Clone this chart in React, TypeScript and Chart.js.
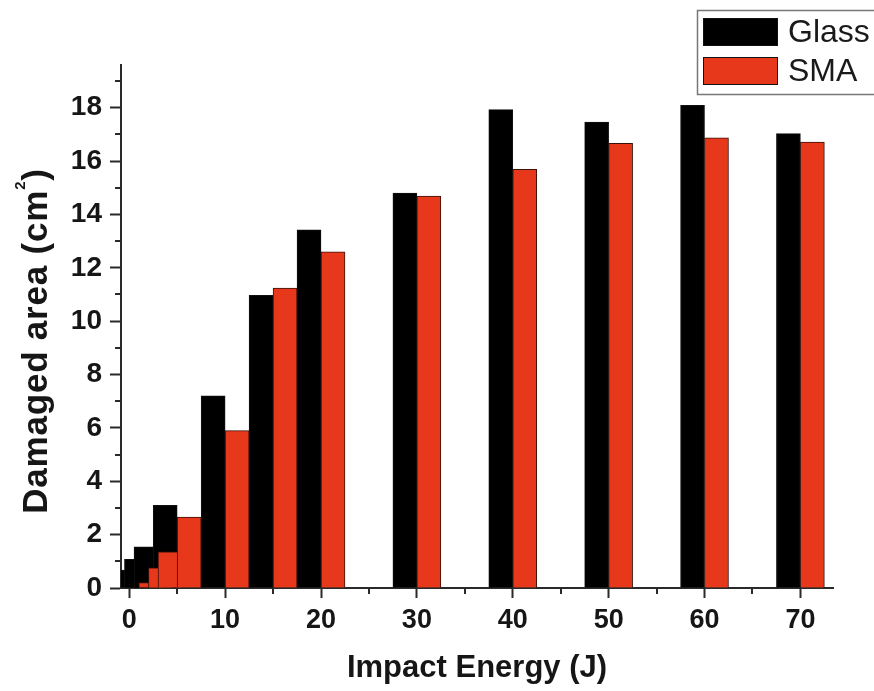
import React, { useEffect, useRef } from "react";
import { Chart, registerables } from "chart.js";

Chart.register(...registerables);

// Impact energies (J)
const energies = [1, 2, 3, 5, 10, 15, 20, 30, 40, 50, 60, 70];
// Damaged area (cm²)
const glassArea = [0.67, 1.07, 1.54, 3.1, 7.2, 10.97, 13.42, 14.8, 17.93, 17.46, 18.09, 17.03];
const smaArea = [0.2, 0.76, 1.36, 2.66, 5.9, 11.24, 12.6, 14.69, 15.69, 16.66, 16.87, 16.71];
const seriesLabels = ["Glass", "SMA"];
const xTitle = "Impact Energy (J)";
const yTitleMain = "Damaged area (cm";
const yTitleSup = "2";
const yTitleEnd = ")";
const xTickValues = [0, 10, 20, 30, 40, 50, 60, 70];
const xMinorValues = [5, 15, 25, 35, 45, 55, 65];
const yTickValues = [0, 2, 4, 6, 8, 10, 12, 14, 16, 18];
const yMinorValues = [1, 3, 5, 7, 9, 11, 13, 15, 17, 19];
const BAR_WIDTH_J = 2.5;

const FONT = "'Liberation Sans', Arial, Helvetica, sans-serif";
const GLASS_COLOR = "#000000";
const SMA_COLOR = "#e8381c";
const AXIS_COLOR = "#2a2a2a";
const TEXT_COLOR = "#161616";

export default function App() {
  const ref = useRef<HTMLCanvasElement>(null);

  useEffect(() => {
    const canvas = ref.current;
    if (!canvas) return;

    const minorTicks = {
      id: "minorTicks",
      afterDraw(chart: any) {
        const c = chart.ctx;
        const xs = chart.scales.x;
        const ys = chart.scales.y;
        const area = chart.chartArea;
        c.save();
        c.strokeStyle = AXIS_COLOR;
        c.lineWidth = 2;
        c.beginPath();
        for (const v of yMinorValues) {
          const py = Math.round(ys.getPixelForValue(v));
          c.moveTo(area.left - 6, py);
          c.lineTo(area.left, py);
        }
        for (const v of xMinorValues) {
          const px = Math.round(xs.getPixelForValue(v));
          c.moveTo(px, area.bottom);
          c.lineTo(px, area.bottom + 6);
        }
        c.stroke();
        c.restore();
      },
    };

    const yTitle = {
      id: "yTitle",
      afterDraw(chart: any) {
        const c = chart.ctx;
        c.save();
        c.translate(47, 341);
        c.rotate(-Math.PI / 2);
        c.fillStyle = TEXT_COLOR;
        c.textBaseline = "alphabetic";
        c.textAlign = "left";
        const mainFont = `bold 35px ${FONT}`;
        const supFont = `bold 15px ${FONT}`;
        try {
          (c as any).letterSpacing = "0.8px";
        } catch (e) {}
        c.font = mainFont;
        const w1 = c.measureText(yTitleMain).width;
        const w3 = c.measureText(yTitleEnd).width;
        c.font = supFont;
        const w2 = c.measureText(yTitleSup).width;
        const total = w1 + w2 + w3;
        let x = -total / 2;
        c.font = mainFont;
        c.fillText(yTitleMain, x, 0);
        x += w1;
        c.font = supFont;
        c.fillText(yTitleSup, x, -22);
        x += w2;
        c.font = mainFont;
        c.fillText(yTitleEnd, x, 0);
        c.restore();
      },
    };

    const legendBox = {
      id: "legendBox",
      afterDraw(chart: any) {
        const c = chart.ctx;
        const ds = chart.data.datasets;
        c.save();
        c.fillStyle = "#ffffff";
        c.fillRect(697, 10, 190, 84);
        c.strokeStyle = "#777";
        c.lineWidth = 1.5;
        c.strokeRect(697.5, 10.5, 190, 84);
        const rows = [32, 71];
        ds.forEach((d: any, i: number) => {
          const cy = rows[i];
          c.fillStyle = d.backgroundColor;
          c.fillRect(703, cy - 14, 75, 28);
          c.strokeStyle = "#111";
          c.lineWidth = 1;
          c.strokeRect(703.5, cy - 13.5, 74, 27);
          c.fillStyle = "#1a1a1a";
          c.font = `32px ${FONT}`;
          c.textBaseline = "middle";
          c.textAlign = "left";
          c.fillText(d.label, 788, cy + 1);
        });
        c.restore();
      },
    };

    const chart = new Chart(canvas, {
      type: "bar",
      data: {
        datasets: [
          {
            label: seriesLabels[0],
            data: energies.map((e, i) => ({ x: e - BAR_WIDTH_J / 2, y: glassArea[i] })),
            backgroundColor: GLASS_COLOR,
            borderColor: "#111",
            borderWidth: 1,
            grouped: false,
            barThickness: 24,
            clip: 0,
            order: 1,
          } as any,
          {
            label: seriesLabels[1],
            data: energies.map((e, i) => ({ x: e + BAR_WIDTH_J / 2, y: smaArea[i] })),
            backgroundColor: SMA_COLOR,
            borderColor: "#3a1008",
            borderWidth: 1,
            grouped: false,
            barThickness: 24,
            clip: 0,
            order: 0,
          } as any,
        ],
      },
      options: {
        animation: false,
        responsive: false,
        layout: { padding: { top: 65, right: 41, left: 0, bottom: 0 } },
        plugins: { legend: { display: false }, tooltip: { enabled: false } },
        scales: {
          x: {
            type: "linear",
            min: -0.86,
            max: 73.4,
            offset: false,
            z: 1,
            afterBuildTicks: (axis: any) => {
              axis.ticks = xTickValues.map((v) => ({ value: v }));
            },
            afterFit: (axis: any) => {
              axis.height = 103;
            },
            grid: {
              offset: false,
              drawOnChartArea: false,
              drawTicks: true,
              tickLength: 10,
              tickWidth: 2,
              tickColor: AXIS_COLOR,
            },
            border: { color: AXIS_COLOR, width: 2 },
            ticks: {
              font: { family: FONT, size: 27, weight: "bold" },
              color: TEXT_COLOR,
              padding: 6,
              maxRotation: 0,
              autoSkip: false,
            },
            title: {
              display: true,
              text: xTitle,
              font: { family: FONT, size: 31, weight: "bold" },
              color: TEXT_COLOR,
              padding: { top: 0, bottom: 4 },
            },
          } as any,
          y: {
            type: "linear",
            min: 0,
            max: 19.6,
            z: 1,
            afterBuildTicks: (axis: any) => {
              axis.ticks = yTickValues.map((v) => ({ value: v }));
            },
            afterFit: (axis: any) => {
              axis.width = 121;
            },
            grid: {
              offset: false,
              drawOnChartArea: false,
              drawTicks: true,
              tickLength: 11,
              tickWidth: 2,
              tickColor: AXIS_COLOR,
            },
            border: { color: AXIS_COLOR, width: 2 },
            ticks: {
              font: { family: FONT, size: 28, weight: "bold" },
              color: TEXT_COLOR,
              padding: 8,
              autoSkip: false,
            },
            title: { display: false },
          } as any,
        },
      },
      plugins: [minorTicks, legendBox, yTitle],
    });

    const xs: any = chart.scales.x;
    const w = Math.abs(xs.getPixelForValue(BAR_WIDTH_J) - xs.getPixelForValue(0));
    chart.data.datasets.forEach((d: any) => {
      d.barThickness = w;
    });
    chart.update();

    return () => chart.destroy();
  }, []);

  return (
    <div style={{ position: "absolute", left: 0, top: 0, width: 874, height: 691, background: "#fff" }}>
      <canvas ref={ref} width={874} height={691} style={{ display: "block" }} />
    </div>
  );
}
